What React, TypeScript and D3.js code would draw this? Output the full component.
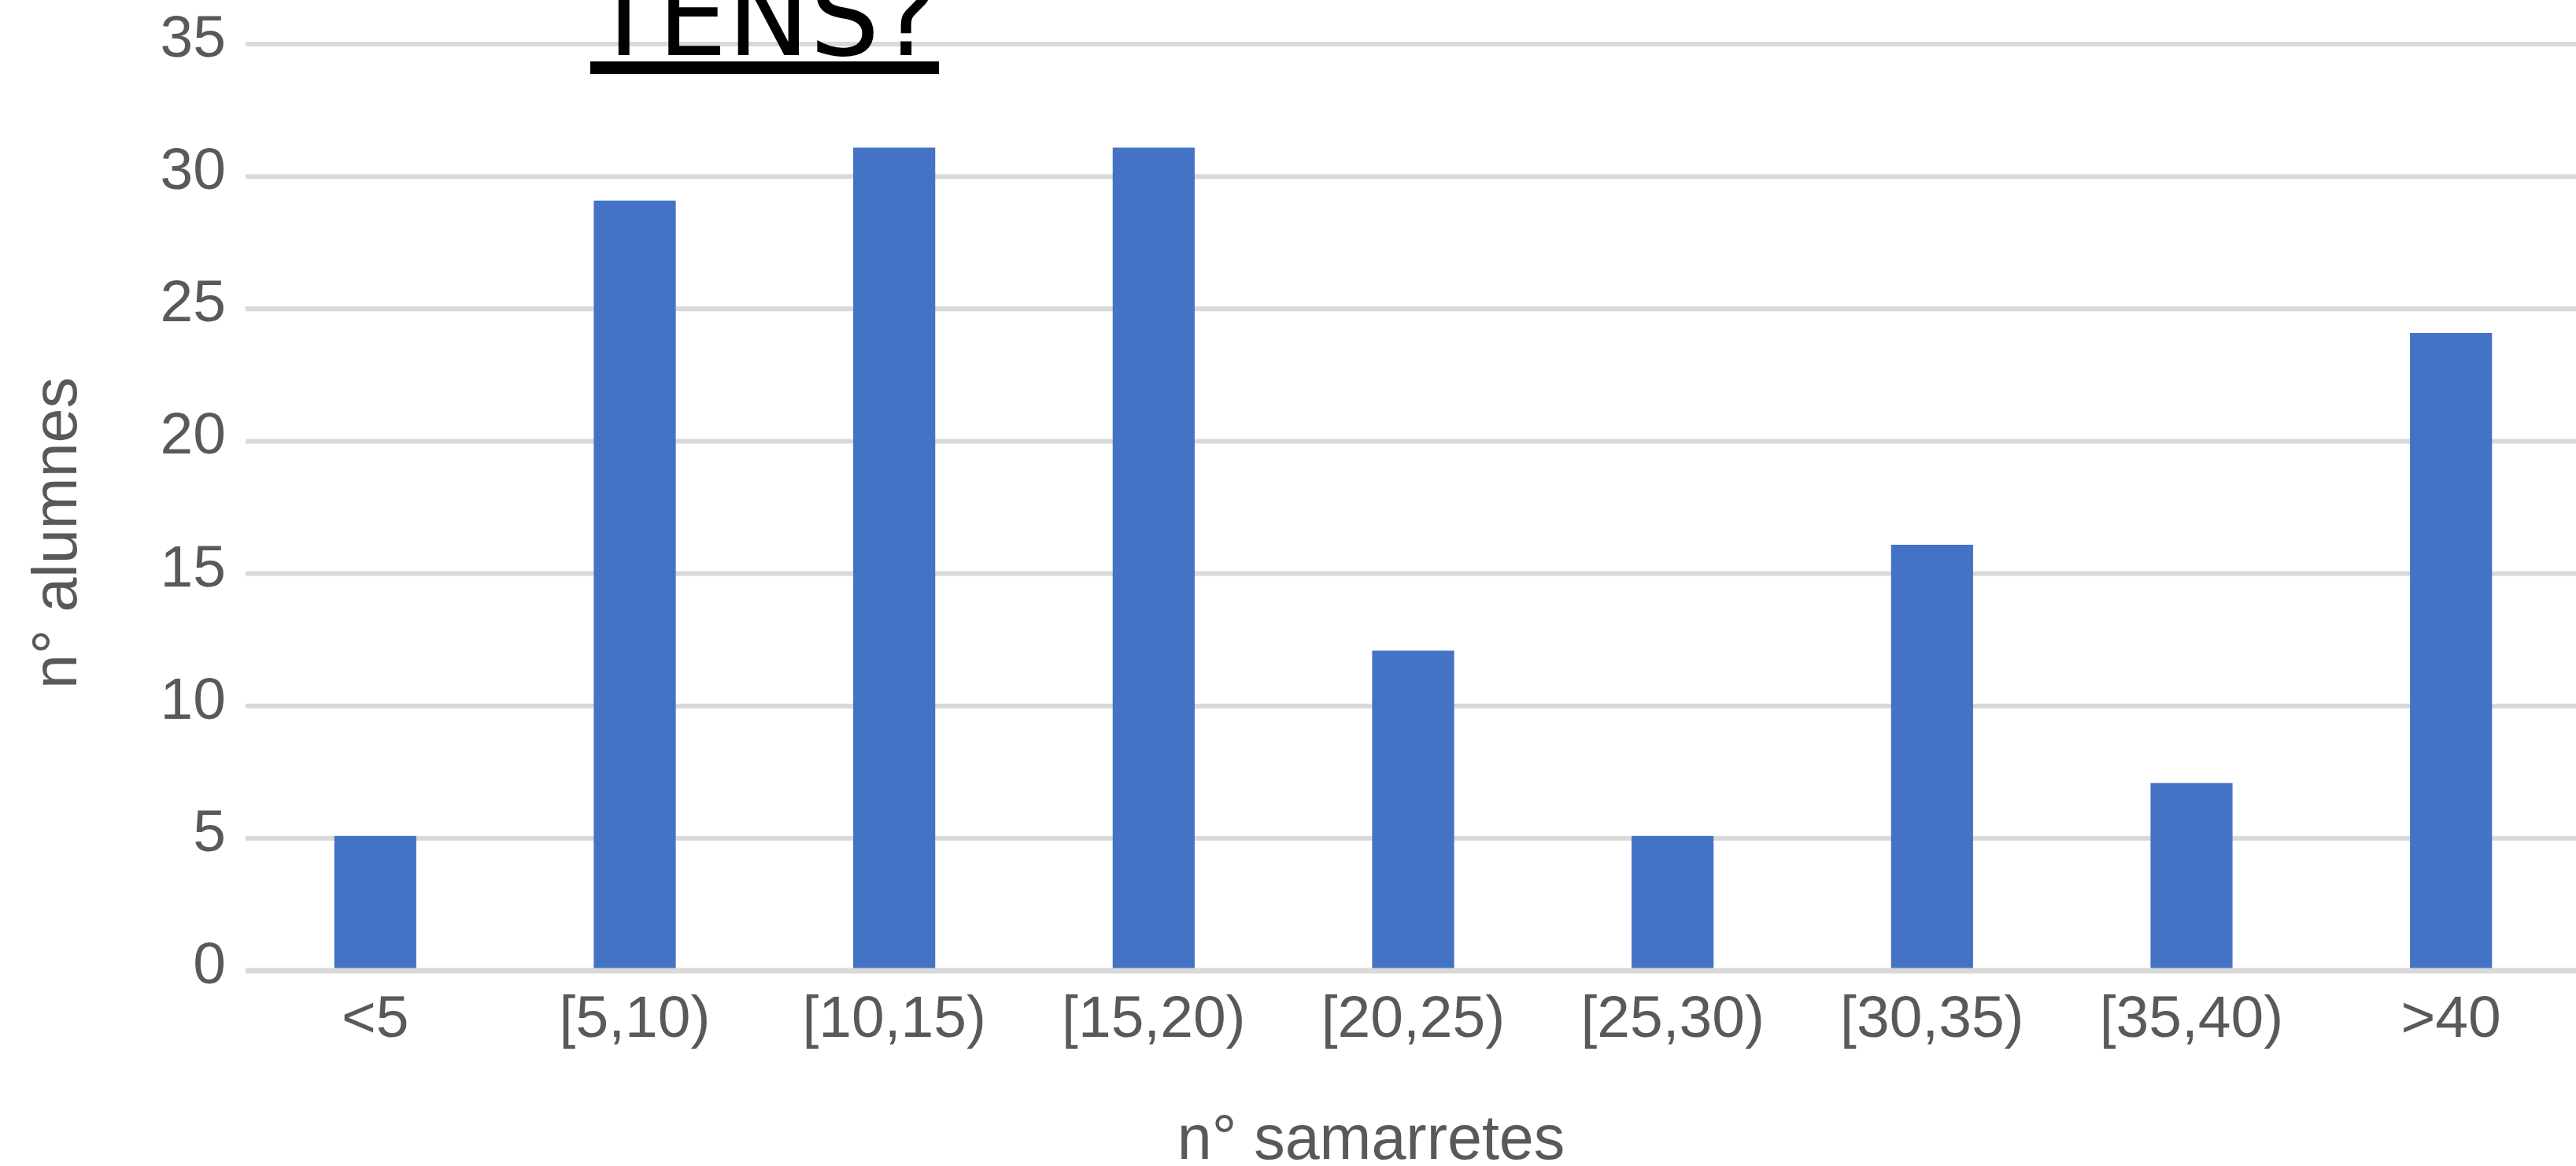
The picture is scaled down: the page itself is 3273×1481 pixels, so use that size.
import React from "react";
import * as d3 from "d3";

const categories: string[] = ["<5", "[5,10)", "[10,15)", "[15,20)", "[20,25)", "[25,30)", "[30,35)", "[35,40)", ">40"];
const values: number[] = [5, 29, 31, 31, 12, 5, 16, 7, 24];
const yTicks: number[] = [0, 5, 10, 15, 20, 25, 30, 35];
const titleText = "TENS?";
const xTitle = "n° samarretes";
const yTitle = "n° alumnes";

const W = 3273;
const H = 1481;
const plotLeft = 312;
const plotRight = 3279;
const y0px = 1233;
const yTopPx = 56;

export default function App() {
  const x = d3
    .scaleBand<string>()
    .domain(categories)
    .range([plotLeft, plotRight])
    .paddingInner(0.684)
    .paddingOuter(0.342);
  const y = d3.scaleLinear().domain([0, 35]).range([y0px, yTopPx]);
  const gridColor = "#d9d9d9";
  const textColor = "#595959";
  const font = "'Liberation Sans', Arial, sans-serif";

  return (
    <svg
      width={W}
      height={H}
      style={{ position: "absolute", left: 0, top: 0, background: "#fff", overflow: "hidden" }}
    >
      <rect x={0} y={0} width={W} height={H} fill="#ffffff" />
      {/* gridlines */}
      {yTicks
        .filter((t) => t !== 0)
        .map((t) => (
          <line key={"g" + t} x1={plotLeft} x2={W} y1={y(t)} y2={y(t)} stroke={gridColor} strokeWidth={6} />
        ))}
      {/* bars */}
      {categories.map((c, i) => (
        <rect
          key={c}
          x={x(c)}
          y={y(values[i]) - 3}
          width={x.bandwidth()}
          height={y(0) - y(values[i]) + 3}
          fill="#4472c4"
        />
      ))}
      {/* axis line */}
      <line x1={plotLeft} x2={W} y1={y(0)} y2={y(0)} stroke={gridColor} strokeWidth={7} />
      {/* y tick labels */}
      {yTicks.map((t) => (
        <text
          key={"yt" + t}
          x={287}
          y={y(t) + 16}
          textAnchor="end"
          fontFamily={font}
          fontSize={75}
          fill={textColor}
        >
          {t}
        </text>
      ))}
      {/* x tick labels */}
      {categories.map((c) => (
        <text
          key={"xt" + c}
          x={(x(c) as number) + x.bandwidth() / 2}
          y={1317}
          textAnchor="middle"
          fontFamily={font}
          fontSize={75}
          fill={textColor}
        >
          {c}
        </text>
      ))}
      {/* axis titles */}
      <text x={1742} y={1472} textAnchor="middle" fontFamily={font} fontSize={79} fill={textColor}>
        {xTitle}
      </text>
      <text
        transform="translate(97,677) rotate(-90)"
        textAnchor="middle"
        fontFamily={font}
        fontSize={79}
        fill={textColor}
      >
        {yTitle}
      </text>
      {/* chart title (cut off at top) */}
      <text x={750} y={70} fontFamily="'DejaVu Sans', sans-serif" fontSize={140} fill="#000">
        {titleText}
      </text>
      <rect x={750} y={78} width={443} height={16} fill="#000" />
    </svg>
  );
}
